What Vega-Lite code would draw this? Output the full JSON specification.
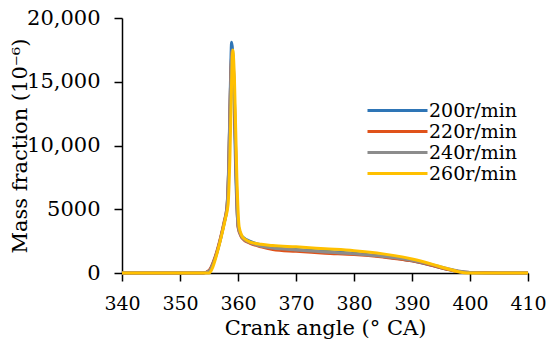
{
  "$schema": "https://vega.github.io/schema/vega-lite/v6.json",
  "width": 406,
  "height": 255,
  "autosize": {"type": "none"},
  "padding": {"left": 122, "top": 18, "right": 22, "bottom": 81},
  "background": "white",
  "config": {
    "view": {"stroke": null},
    "font": "DejaVu Serif",
    "legend": {"padding": 0},
    "axis": {"grid": false, "domainColor": "black", "tickColor": "black", "labelColor": "black", "titleColor": "black", "labelFont": "DejaVu Serif", "titleFont": "DejaVu Serif", "titleFontWeight": "normal", "labelFontSize": 21, "titleFontSize": 21, "domainWidth": 1.5, "tickWidth": 1.5, "tickSize": 8, "labelOverlap": false, "labelFlush": false}
  },
  "datasets": {
    "curves": [
      {"a": 340, "v": 0, "s": "200r/min"}, {"a": 354, "v": 0, "s": "200r/min"}, {"a": 355, "v": 150, "s": "200r/min"}, {"a": 356, "v": 1100, "s": "200r/min"}, {"a": 357, "v": 2700, "s": "200r/min"}, {"a": 357.6, "v": 3900, "s": "200r/min"}, {"a": 358.1, "v": 5200, "s": "200r/min"}, {"a": 358.4, "v": 8500, "s": "200r/min"}, {"a": 358.7, "v": 15000, "s": "200r/min"}, {"a": 358.9, "v": 18100, "s": "200r/min"}, {"a": 359.2, "v": 16000, "s": "200r/min"}, {"a": 359.6, "v": 8000, "s": "200r/min"}, {"a": 360, "v": 3800, "s": "200r/min"}, {"a": 360.5, "v": 3000, "s": "200r/min"}, {"a": 361, "v": 2750, "s": "200r/min"}, {"a": 362, "v": 2500, "s": "200r/min"}, {"a": 364, "v": 2200, "s": "200r/min"}, {"a": 366, "v": 2000, "s": "200r/min"}, {"a": 370, "v": 1850, "s": "200r/min"}, {"a": 375, "v": 1700, "s": "200r/min"}, {"a": 380, "v": 1550, "s": "200r/min"}, {"a": 385, "v": 1300, "s": "200r/min"}, {"a": 390, "v": 950, "s": "200r/min"}, {"a": 393, "v": 650, "s": "200r/min"}, {"a": 396, "v": 300, "s": "200r/min"}, {"a": 398, "v": 120, "s": "200r/min"}, {"a": 400, "v": 30, "s": "200r/min"}, {"a": 405, "v": 0, "s": "200r/min"}, {"a": 410, "v": 0, "s": "200r/min"},

      {"a": 340, "v": 0, "s": "220r/min"}, {"a": 354, "v": 0, "s": "220r/min"}, {"a": 355, "v": 200, "s": "220r/min"}, {"a": 356, "v": 1200, "s": "220r/min"}, {"a": 357, "v": 2800, "s": "220r/min"}, {"a": 357.6, "v": 4000, "s": "220r/min"}, {"a": 358.1, "v": 5200, "s": "220r/min"}, {"a": 358.4, "v": 8300, "s": "220r/min"}, {"a": 358.7, "v": 14500, "s": "220r/min"}, {"a": 359, "v": 17400, "s": "220r/min"}, {"a": 359.3, "v": 15000, "s": "220r/min"}, {"a": 359.7, "v": 7500, "s": "220r/min"}, {"a": 360, "v": 3600, "s": "220r/min"}, {"a": 360.5, "v": 2900, "s": "220r/min"}, {"a": 361, "v": 2600, "s": "220r/min"}, {"a": 362, "v": 2350, "s": "220r/min"}, {"a": 364, "v": 2050, "s": "220r/min"}, {"a": 366, "v": 1850, "s": "220r/min"}, {"a": 370, "v": 1700, "s": "220r/min"}, {"a": 375, "v": 1550, "s": "220r/min"}, {"a": 380, "v": 1450, "s": "220r/min"}, {"a": 385, "v": 1250, "s": "220r/min"}, {"a": 390, "v": 950, "s": "220r/min"}, {"a": 393, "v": 650, "s": "220r/min"}, {"a": 396, "v": 300, "s": "220r/min"}, {"a": 398, "v": 120, "s": "220r/min"}, {"a": 400, "v": 30, "s": "220r/min"}, {"a": 405, "v": 0, "s": "220r/min"}, {"a": 410, "v": 0, "s": "220r/min"},

      {"a": 340, "v": 0, "s": "240r/min"}, {"a": 354, "v": 0, "s": "240r/min"}, {"a": 355, "v": 150, "s": "240r/min"}, {"a": 356, "v": 1100, "s": "240r/min"}, {"a": 357, "v": 2700, "s": "240r/min"}, {"a": 357.6, "v": 3900, "s": "240r/min"}, {"a": 358.1, "v": 5100, "s": "240r/min"}, {"a": 358.4, "v": 8200, "s": "240r/min"}, {"a": 358.7, "v": 14500, "s": "240r/min"}, {"a": 359, "v": 17500, "s": "240r/min"}, {"a": 359.3, "v": 15200, "s": "240r/min"}, {"a": 359.7, "v": 7600, "s": "240r/min"}, {"a": 360, "v": 3700, "s": "240r/min"}, {"a": 360.5, "v": 2950, "s": "240r/min"}, {"a": 361, "v": 2650, "s": "240r/min"}, {"a": 362, "v": 2400, "s": "240r/min"}, {"a": 364, "v": 2100, "s": "240r/min"}, {"a": 366, "v": 1950, "s": "240r/min"}, {"a": 370, "v": 1800, "s": "240r/min"}, {"a": 375, "v": 1650, "s": "240r/min"}, {"a": 380, "v": 1500, "s": "240r/min"}, {"a": 385, "v": 1300, "s": "240r/min"}, {"a": 390, "v": 1000, "s": "240r/min"}, {"a": 393, "v": 700, "s": "240r/min"}, {"a": 396, "v": 350, "s": "240r/min"}, {"a": 398, "v": 150, "s": "240r/min"}, {"a": 400, "v": 40, "s": "240r/min"}, {"a": 405, "v": 0, "s": "240r/min"}, {"a": 410, "v": 0, "s": "240r/min"},

      {"a": 340, "v": 0, "s": "260r/min"}, {"a": 355, "v": 0, "s": "260r/min"}, {"a": 355.5, "v": 300, "s": "260r/min"}, {"a": 356.3, "v": 1400, "s": "260r/min"}, {"a": 357.2, "v": 3000, "s": "260r/min"}, {"a": 357.8, "v": 4200, "s": "260r/min"}, {"a": 358.3, "v": 5400, "s": "260r/min"}, {"a": 358.6, "v": 9000, "s": "260r/min"}, {"a": 358.9, "v": 15000, "s": "260r/min"}, {"a": 359.1, "v": 17500, "s": "260r/min"}, {"a": 359.4, "v": 15000, "s": "260r/min"}, {"a": 359.8, "v": 7500, "s": "260r/min"}, {"a": 360.2, "v": 3600, "s": "260r/min"}, {"a": 360.7, "v": 2900, "s": "260r/min"}, {"a": 361.2, "v": 2650, "s": "260r/min"}, {"a": 362, "v": 2450, "s": "260r/min"}, {"a": 364, "v": 2250, "s": "260r/min"}, {"a": 366, "v": 2150, "s": "260r/min"}, {"a": 370, "v": 2050, "s": "260r/min"}, {"a": 375, "v": 1900, "s": "260r/min"}, {"a": 380, "v": 1750, "s": "260r/min"}, {"a": 385, "v": 1500, "s": "260r/min"}, {"a": 390, "v": 1100, "s": "260r/min"}, {"a": 393, "v": 750, "s": "260r/min"}, {"a": 396, "v": 350, "s": "260r/min"}, {"a": 398, "v": 100, "s": "260r/min"}, {"a": 399.5, "v": 0, "s": "260r/min"}, {"a": 405, "v": 0, "s": "260r/min"}, {"a": 410, "v": 0, "s": "260r/min"}
    ]
  },
  "data": {"name": "curves"},
  "mark": {"type": "line", "strokeWidth": 3, "interpolate": "monotone"},
  "encoding": {
    "x": {"field": "a", "type": "quantitative", "scale": {"domain": [340, 410], "nice": false, "zero": false}, "axis": {"values": [340, 350, 360, 370, 380, 390, 400, 410], "title": "Crank angle (° CA)", "labelFontSize": 19, "labelPadding": 13, "titlePadding": 4}},
    "y": {"field": "v", "type": "quantitative", "scale": {"domain": [0, 20000], "nice": false}, "axis": {"values": [0, 5000, 10000, 15000, 20000], "labelExpr": "datum.value >= 10000 ? format(datum.value, ',') : format(datum.value, 'd')", "title": "Mass fraction (10⁻⁶)", "labelPadding": 14, "titlePadding": -4}},
    "color": {"field": "s", "type": "nominal", "scale": {"domain": ["200r/min", "220r/min", "240r/min", "260r/min"], "range": ["#2E75B6", "#E0521A", "#8C8C8C", "#FFC000"]}, "legend": {"title": null, "orient": "none", "legendX": 266, "legendY": 83, "symbolType": "M-4,0H4", "symbolSize": 225, "symbolStrokeWidth": 3, "labelFontSize": 19, "labelFont": "DejaVu Serif", "labelColor": "black", "labelOffset": 22, "rowPadding": 1}},
    "order": {"field": "s"}
  }
}
